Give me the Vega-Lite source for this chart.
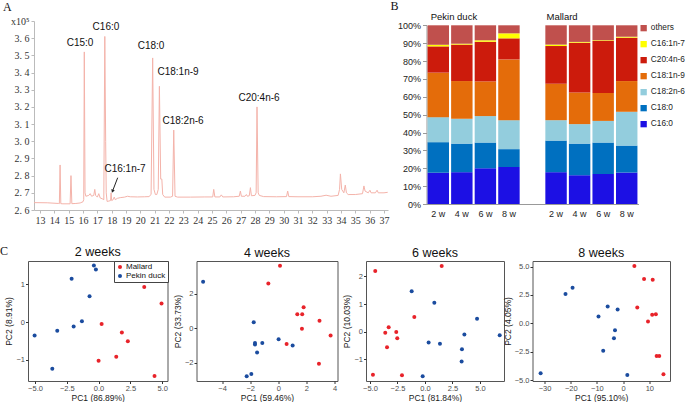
{
  "$schema": "https://vega.github.io/schema/vega-lite/v6.json",
  "background": "white",
  "padding": {"left": 0, "top": 0, "right": 16, "bottom": 0},
  "config": {"font": "Liberation Sans", "view": {"stroke": null}, "title": {"fontWeight": "normal", "color": "#111"}, "axis": {"grid": false}},
  "datasets": {
    "chrom": [
      {"t":12.58,"v":2.643},{"t":13.5,"v":2.642},{"t":14.3,"v":2.638},{"t":14.35,"v":2.637},{"t":14.4,"v":2.862},{"t":14.45,"v":2.637},{"t":14.6,"v":2.636},{"t":15.1,"v":2.636},{"t":15.16,"v":2.8},{"t":15.22,"v":2.637},{"t":15.5,"v":2.638},{"t":15.8,"v":2.641},{"t":16.0,"v":2.648},{"t":16.05,"v":2.66},{"t":16.09,"v":3.52},{"t":16.14,"v":2.7},{"t":16.2,"v":2.68},{"t":16.4,"v":2.685},{"t":16.5,"v":2.695},{"t":16.6,"v":2.68},{"t":16.75,"v":2.685},{"t":16.82,"v":2.72},{"t":16.88,"v":2.685},{"t":17.0,"v":2.675},{"t":17.1,"v":2.695},{"t":17.2,"v":2.67},{"t":17.35,"v":2.665},{"t":17.45,"v":2.66},{"t":17.52,"v":3.61},{"t":17.58,"v":3.0},{"t":17.62,"v":2.7},{"t":17.68,"v":2.65},{"t":17.8,"v":2.652},{"t":17.92,"v":2.655},{"t":17.96,"v":2.7},{"t":18.0,"v":2.655},{"t":18.1,"v":2.66},{"t":18.18,"v":2.675},{"t":18.25,"v":2.66},{"t":18.4,"v":2.668},{"t":18.6,"v":2.672},{"t":18.9,"v":2.675},{"t":19.1,"v":2.68},{"t":19.3,"v":2.677},{"t":19.8,"v":2.676},{"t":20.3,"v":2.677},{"t":20.6,"v":2.678},{"t":20.75,"v":2.69},{"t":20.86,"v":3.485},{"t":20.95,"v":2.72},{"t":21.05,"v":2.69},{"t":21.15,"v":2.69},{"t":21.25,"v":2.72},{"t":21.33,"v":3.32},{"t":21.42,"v":2.78},{"t":21.5,"v":2.78},{"t":21.56,"v":2.69},{"t":21.7,"v":2.675},{"t":22.1,"v":2.675},{"t":22.25,"v":2.68},{"t":22.33,"v":3.065},{"t":22.42,"v":2.68},{"t":22.6,"v":2.675},{"t":23.5,"v":2.675},{"t":24.5,"v":2.676},{"t":25.05,"v":2.676},{"t":25.12,"v":2.72},{"t":25.2,"v":2.676},{"t":25.55,"v":2.676},{"t":25.65,"v":2.688},{"t":25.75,"v":2.676},{"t":26.5,"v":2.677},{"t":26.9,"v":2.68},{"t":26.98,"v":2.71},{"t":27.05,"v":2.68},{"t":27.3,"v":2.68},{"t":27.4,"v":2.69},{"t":27.47,"v":2.68},{"t":27.6,"v":2.683},{"t":27.68,"v":2.73},{"t":27.75,"v":2.683},{"t":28.0,"v":2.685},{"t":28.08,"v":2.7},{"t":28.14,"v":3.2},{"t":28.22,"v":2.7},{"t":28.3,"v":2.685},{"t":28.6,"v":2.678},{"t":29.5,"v":2.677},{"t":30.2,"v":2.678},{"t":30.28,"v":2.71},{"t":30.36,"v":2.678},{"t":31.0,"v":2.677},{"t":32.0,"v":2.677},{"t":32.6,"v":2.68},{"t":32.96,"v":2.686},{"t":33.3,"v":2.68},{"t":33.8,"v":2.685},{"t":33.9,"v":2.72},{"t":33.96,"v":2.81},{"t":34.05,"v":2.72},{"t":34.2,"v":2.7},{"t":34.3,"v":2.745},{"t":34.38,"v":2.7},{"t":34.5,"v":2.69},{"t":35.0,"v":2.69},{"t":35.5,"v":2.695},{"t":35.6,"v":2.74},{"t":35.68,"v":2.71},{"t":35.9,"v":2.7},{"t":36.02,"v":2.715},{"t":36.1,"v":2.7},{"t":36.4,"v":2.7},{"t":36.52,"v":2.715},{"t":36.6,"v":2.7},{"t":37.0,"v":2.7},{"t":37.26,"v":2.703}
    ],
    "peaks": [
      {"t":15.79,"v":3.571,"label":"C15:0"},
      {"t":17.6,"v":3.666,"label":"C16:0"},
      {"t":20.75,"v":3.553,"label":"C18:0"},
      {"t":22.63,"v":3.402,"label":"C18:1n-9"},
      {"t":22.98,"v":3.117,"label":"C18:2n-6"},
      {"t":28.28,"v":3.251,"label":"C20:4n-6"},
      {"t":18.93,"v":2.838,"label":"C16:1n-7"}
    ],
    "arrow": [{"t":18.42,"v":2.788,"t2":18.07,"v2":2.712}],
    "fa": [
      {"cat":"P2","fa":"C16:0","ord":1,"pct":17.5},{"cat":"P2","fa":"C18:0","ord":2,"pct":17.1},{"cat":"P2","fa":"C18:2n-6","ord":3,"pct":14.0},{"cat":"P2","fa":"C18:1n-9","ord":4,"pct":24.9},{"cat":"P2","fa":"C20:4n-6","ord":5,"pct":14.7},{"cat":"P2","fa":"C16:1n-7","ord":6,"pct":0.9},{"cat":"P2","fa":"others","ord":7,"pct":10.9},
      {"cat":"P4","fa":"C16:0","ord":1,"pct":17.8},{"cat":"P4","fa":"C18:0","ord":2,"pct":16.0},{"cat":"P4","fa":"C18:2n-6","ord":3,"pct":13.9},{"cat":"P4","fa":"C18:1n-9","ord":4,"pct":21.1},{"cat":"P4","fa":"C20:4n-6","ord":5,"pct":20.4},{"cat":"P4","fa":"C16:1n-7","ord":6,"pct":0.5},{"cat":"P4","fa":"others","ord":7,"pct":10.3},
      {"cat":"P6","fa":"C16:0","ord":1,"pct":20.0},{"cat":"P6","fa":"C18:0","ord":2,"pct":14.4},{"cat":"P6","fa":"C18:2n-6","ord":3,"pct":14.8},{"cat":"P6","fa":"C18:1n-9","ord":4,"pct":19.4},{"cat":"P6","fa":"C20:4n-6","ord":5,"pct":22.2},{"cat":"P6","fa":"C16:1n-7","ord":6,"pct":0.8},{"cat":"P6","fa":"others","ord":7,"pct":8.4},
      {"cat":"P8","fa":"C16:0","ord":1,"pct":20.7},{"cat":"P8","fa":"C18:0","ord":2,"pct":10.0},{"cat":"P8","fa":"C18:2n-6","ord":3,"pct":16.2},{"cat":"P8","fa":"C18:1n-9","ord":4,"pct":34.0},{"cat":"P8","fa":"C20:4n-6","ord":5,"pct":11.8},{"cat":"P8","fa":"C16:1n-7","ord":6,"pct":2.8},{"cat":"P8","fa":"others","ord":7,"pct":4.5},
      {"cat":"M2","fa":"C16:0","ord":1,"pct":17.8},{"cat":"M2","fa":"C18:0","ord":2,"pct":17.7},{"cat":"M2","fa":"C18:2n-6","ord":3,"pct":11.4},{"cat":"M2","fa":"C18:1n-9","ord":4,"pct":20.4},{"cat":"M2","fa":"C20:4n-6","ord":5,"pct":21.1},{"cat":"M2","fa":"C16:1n-7","ord":6,"pct":0.8},{"cat":"M2","fa":"others","ord":7,"pct":10.8},
      {"cat":"M4","fa":"C16:0","ord":1,"pct":16.1},{"cat":"M4","fa":"C18:0","ord":2,"pct":17.7},{"cat":"M4","fa":"C18:2n-6","ord":3,"pct":10.9},{"cat":"M4","fa":"C18:1n-9","ord":4,"pct":17.7},{"cat":"M4","fa":"C20:4n-6","ord":5,"pct":27.9},{"cat":"M4","fa":"C16:1n-7","ord":6,"pct":0.4},{"cat":"M4","fa":"others","ord":7,"pct":9.3},
      {"cat":"M6","fa":"C16:0","ord":1,"pct":16.8},{"cat":"M6","fa":"C18:0","ord":2,"pct":17.6},{"cat":"M6","fa":"C18:2n-6","ord":3,"pct":12.1},{"cat":"M6","fa":"C18:1n-9","ord":4,"pct":15.6},{"cat":"M6","fa":"C20:4n-6","ord":5,"pct":29.1},{"cat":"M6","fa":"C16:1n-7","ord":6,"pct":0.4},{"cat":"M6","fa":"others","ord":7,"pct":8.4},
      {"cat":"M8","fa":"C16:0","ord":1,"pct":17.6},{"cat":"M8","fa":"C18:0","ord":2,"pct":15.1},{"cat":"M8","fa":"C18:2n-6","ord":3,"pct":18.9},{"cat":"M8","fa":"C18:1n-9","ord":4,"pct":17.2},{"cat":"M8","fa":"C20:4n-6","ord":5,"pct":24.3},{"cat":"M8","fa":"C16:1n-7","ord":6,"pct":0.5},{"cat":"M8","fa":"others","ord":7,"pct":6.4}
    ],
    "grpP": [{"cat":"P4","pct":104.6,"label":"Pekin duck"}],
    "grpM": [{"cat":"M2","pct":104.6,"label":"Mallard"}],
    "c2": [
      {"group":"Pekin duck","pc1":-0.37,"pc2":1.5},{"group":"Pekin duck","pc1":-0.21,"pc2":1.39},{"group":"Pekin duck","pc1":-2.12,"pc2":1.15},{"group":"Pekin duck","pc1":-0.71,"pc2":0.68},{"group":"Pekin duck","pc1":-1.31,"pc2":0.02},{"group":"Pekin duck","pc1":-1.96,"pc2":-0.12},{"group":"Pekin duck","pc1":-3.25,"pc2":-0.23},{"group":"Pekin duck","pc1":-5.03,"pc2":-0.36},{"group":"Pekin duck","pc1":-3.64,"pc2":-1.24},
      {"group":"Mallard","pc1":3.59,"pc2":0.93},{"group":"Mallard","pc1":4.95,"pc2":0.49},{"group":"Mallard","pc1":0.24,"pc2":-0.05},{"group":"Mallard","pc1":1.83,"pc2":-0.28},{"group":"Mallard","pc1":2.3,"pc2":-0.51},{"group":"Mallard","pc1":1.39,"pc2":-0.92},{"group":"Mallard","pc1":0.0,"pc2":-1.03},{"group":"Mallard","pc1":4.4,"pc2":-1.43}
    ],
    "c4": [
      {"group":"Pekin duck","pc1":-5.35,"pc2":2.69},{"group":"Pekin duck","pc1":-1.75,"pc2":0.35},{"group":"Pekin duck","pc1":-1.66,"pc2":-0.85},{"group":"Pekin duck","pc1":-1.66,"pc2":-0.94},{"group":"Pekin duck","pc1":-1.14,"pc2":-0.85},{"group":"Pekin duck","pc1":-1.51,"pc2":-1.4},{"group":"Pekin duck","pc1":0.02,"pc2":-0.63},{"group":"Pekin duck","pc1":1.02,"pc2":-1.0},{"group":"Pekin duck","pc1":-1.92,"pc2":-2.63},{"group":"Pekin duck","pc1":-2.25,"pc2":-2.77},
      {"group":"Mallard","pc1":0.12,"pc2":3.6},{"group":"Mallard","pc1":-0.71,"pc2":2.58},{"group":"Mallard","pc1":1.8,"pc2":1.21},{"group":"Mallard","pc1":1.35,"pc2":0.81},{"group":"Mallard","pc1":1.7,"pc2":0.81},{"group":"Mallard","pc1":2.93,"pc2":0.44},{"group":"Mallard","pc1":1.68,"pc2":-0.02},{"group":"Mallard","pc1":3.72,"pc2":-0.42},{"group":"Mallard","pc1":0.59,"pc2":-0.9},{"group":"Mallard","pc1":2.89,"pc2":-2.04}
    ],
    "c6": [
      {"group":"Mallard","pc1":-4.52,"pc2":2.2},{"group":"Mallard","pc1":1.52,"pc2":2.38},{"group":"Mallard","pc1":-0.97,"pc2":0.53},{"group":"Mallard","pc1":-3.3,"pc2":0.16},{"group":"Mallard","pc1":-3.61,"pc2":-0.04},{"group":"Mallard","pc1":-2.61,"pc2":-0.01},{"group":"Mallard","pc1":-2.52,"pc2":-0.24},{"group":"Mallard","pc1":-3.45,"pc2":-0.57},{"group":"Mallard","pc1":-4.73,"pc2":-1.56},{"group":"Mallard","pc1":-2.09,"pc2":-1.58},
      {"group":"Pekin duck","pc1":-1.21,"pc2":1.46},{"group":"Pekin duck","pc1":0.85,"pc2":1.05},{"group":"Pekin duck","pc1":4.73,"pc2":0.47},{"group":"Pekin duck","pc1":3.58,"pc2":-0.1},{"group":"Pekin duck","pc1":6.79,"pc2":-0.13},{"group":"Pekin duck","pc1":0.33,"pc2":-0.39},{"group":"Pekin duck","pc1":1.36,"pc2":-0.44},{"group":"Pekin duck","pc1":3.36,"pc2":-0.64},{"group":"Pekin duck","pc1":3.33,"pc2":-1.08},{"group":"Pekin duck","pc1":-0.21,"pc2":-1.62}
    ],
    "c8": [
      {"group":"Pekin duck","pc1":-19.3,"pc2":3.14},{"group":"Pekin duck","pc1":-22.0,"pc2":2.59},{"group":"Pekin duck","pc1":-5.9,"pc2":1.48},{"group":"Pekin duck","pc1":-2.1,"pc2":1.22},{"group":"Pekin duck","pc1":-9.4,"pc2":0.61},{"group":"Pekin duck","pc1":-3.1,"pc2":-0.61},{"group":"Pekin duck","pc1":-3.5,"pc2":-1.31},{"group":"Pekin duck","pc1":-7.6,"pc2":-2.41},{"group":"Pekin duck","pc1":-31.5,"pc2":-4.39},{"group":"Pekin duck","pc1":1.6,"pc2":-4.56},
      {"group":"Mallard","pc1":4.3,"pc2":5.06},{"group":"Mallard","pc1":8.0,"pc2":3.9},{"group":"Mallard","pc1":11.3,"pc2":3.84},{"group":"Mallard","pc1":5.4,"pc2":1.4},{"group":"Mallard","pc1":12.5,"pc2":0.81},{"group":"Mallard","pc1":11.1,"pc2":0.76},{"group":"Mallard","pc1":9.5,"pc2":0.17},{"group":"Mallard","pc1":12.8,"pc2":-2.88},{"group":"Mallard","pc1":13.8,"pc2":-2.88},{"group":"Mallard","pc1":15.4,"pc2":-4.48}
    ],
    "none": []
  },
  "spacing": 19,
  "resolve": {"scale": {"color": "independent"}, "legend": {"color": "independent"}},
  "vconcat": [
    {
      "bounds": "flush",
      "spacing": 0,
      "resolve": {"scale": {"color": "independent"}, "legend": {"color": "independent"}},
      "hconcat": [
        {
          "width": 5.7, "height": 1,
          "data": {"name": "none"},
          "mark": {"type": "point"},
          "encoding": {}
        },
        {
          "bounds": "flush",
          "spacing": 38.5,
          "resolve": {"scale": {"color": "independent"}, "legend": {"color": "independent"}},
          "hconcat": [
            {
              "width": 354, "height": 189,
              "title": {"text": "A", "anchor": "start", "frame": "group", "dx": -31, "font": "Liberation Serif", "fontSize": 12, "offset": 2},
              "layer": [
                {
                  "data": {"name": "chrom"},
                  "mark": {"type": "line", "stroke": "#f4b3aa", "strokeWidth": 1, "clip": true},
                  "encoding": {
                    "x": {"field": "t", "type": "quantitative", "scale": {"domain": [12.58, 37.28], "nice": false, "zero": false},
                      "axis": {"title": null, "values": [13,14,15,16,17,18,19,20,21,22,23,24,25,26,27,28,29,30,31,32,33,34,35,36,37], "tickCount": 40, "format": "d", "labelFont": "Liberation Serif", "labelFontSize": 10, "labelColor": "#333", "labelOverlap": false, "labelFlush": false, "domainColor": "#bbb", "tickColor": "#bbb", "tickSize": 3, "labelPadding": 2}},
                    "y": {"field": "v", "type": "quantitative", "scale": {"domain": [2.6, 3.7], "nice": false, "zero": false},
                      "axis": {"title": null, "values": [2.6,2.7,2.8,2.9,3.0,3.1,3.2,3.3,3.4,3.5,3.6,3.7], "tickCount": 20, "labelExpr": "datum.value > 3.65 ? 'x10⁵' : replace(format(datum.value, '.1f'), '.', '. ')", "labelFont": "Liberation Serif", "labelFontSize": 10, "labelColor": "#333", "labelOverlap": false, "labelFlush": false, "domainColor": "#bbb", "tickColor": "#bbb", "tickSize": 3, "labelPadding": 2}}
                  }
                },
                {
                  "data": {"name": "peaks"},
                  "mark": {"type": "text", "font": "Liberation Sans", "fontSize": 10, "color": "#111", "align": "center", "baseline": "middle"},
                  "encoding": {
                    "x": {"field": "t", "type": "quantitative"},
                    "y": {"field": "v", "type": "quantitative"},
                    "text": {"field": "label"}
                  }
                },
                {
                  "data": {"name": "arrow"},
                  "mark": {"type": "rule", "color": "#222", "strokeWidth": 1},
                  "encoding": {
                    "x": {"field": "t", "type": "quantitative"},
                    "y": {"field": "v", "type": "quantitative"},
                    "x2": {"field": "t2"},
                    "y2": {"field": "v2"}
                  }
                },
                {
                  "data": {"name": "arrow"},
                  "mark": {"type": "point", "shape": "triangle", "angle": 200.8, "size": 14, "filled": true, "color": "#222", "opacity": 1},
                  "encoding": {
                    "x": {"field": "t2", "type": "quantitative"},
                    "y": {"field": "v2", "type": "quantitative"}
                  }
                }
              ]
            },
            {
              "width": 212, "height": 183,
              "title": {"text": "B", "anchor": "start", "frame": "group", "dx": -36, "font": "Liberation Serif", "fontSize": 12, "offset": -1},
              "layer": [
                {
                  "data": {"name": "fa"},
                  "mark": {"type": "bar"},
                  "encoding": {
                    "x": {"field": "cat", "type": "nominal", "sort": null, "scale": {"domain": ["P2","P4","P6","P8","gap","M2","M4","M6","M8"], "paddingInner": 0.09, "paddingOuter": 0.045},
                      "axis": {"title": null, "labelExpr": "datum.value == 'gap' ? '' : slice(datum.value, 1) + ' w'", "labelAngle": 0, "ticks": false, "domainColor": "#999", "labelFontSize": 9, "labelColor": "#222", "labelPadding": 5}},
                    "y": {"field": "pct", "type": "quantitative", "stack": "zero", "scale": {"domain": [0, 100], "range": [183, 4.3], "nice": false},
                      "axis": {"title": null, "values": [0,10,20,30,40,50,60,70,80,90,100], "tickCount": 20, "labelExpr": "datum.value + '%'", "tickSize": 4, "labelFontSize": 9, "labelColor": "#222", "domainColor": "#999", "tickColor": "#999", "labelPadding": 2, "labelOverlap": false, "labelFlush": false}},
                    "color": {"field": "fa", "type": "nominal",
                      "scale": {"domain": ["others","C16:1n-7","C20:4n-6","C18:1n-9","C18:2n-6","C18:0","C16:0"], "range": ["#c0504d","#ffff00","#cc1b0c","#e46c0a","#93cddd","#0070c0","#1c10e4"]},
                      "legend": {"title": null, "orient": "none", "legendX": 213, "legendY": 3, "symbolType": "square", "symbolSize": 40, "symbolStrokeWidth": 0, "labelFontSize": 8.3, "labelColor": "#222", "rowPadding": 7, "labelOffset": 3, "padding": 0}},
                    "order": {"field": "ord", "type": "quantitative"}
                  }
                },
                {
                  "data": {"name": "grpP"},
                  "mark": {"type": "text", "fontSize": 9.5, "baseline": "middle", "align": "center", "color": "#111"},
                  "encoding": {
                    "x": {"field": "cat", "type": "nominal", "bandPosition": 0.13},
                    "y": {"field": "pct", "type": "quantitative"},
                    "text": {"field": "label"}
                  }
                },
                {
                  "data": {"name": "grpM"},
                  "mark": {"type": "text", "fontSize": 9.5, "baseline": "middle", "align": "center", "color": "#111"},
                  "encoding": {
                    "x": {"field": "cat", "type": "nominal", "bandPosition": 0.78},
                    "y": {"field": "pct", "type": "quantitative"},
                    "text": {"field": "label"}
                  }
                }
              ]
            }
          ]
        }
      ]
    },
    {
      "bounds": "flush",
      "spacing": 28.5,
      "title": {"text": "C", "anchor": "start", "frame": "group", "dx": -28, "dy": 14, "font": "Liberation Serif", "fontSize": 12, "offset": 2},
      "resolve": {"scale": {"color": "independent"}, "legend": {"color": "independent"}},
      "hconcat": [
        {
          "width": 139.5, "height": 120,
          "title": {"text": "2 weeks", "fontSize": 12.5, "offset": 2},
          "view": {"stroke": "#555", "strokeWidth": 1},
          "data": {"name": "c2"},
          "mark": {"type": "circle", "size": 16, "opacity": 1},
          "encoding": {
            "x": {"field": "pc1", "type": "quantitative", "scale": {"domain": [-5.55, 5.42], "nice": false, "zero": false},
              "axis": {"title": "PC1 (86.89%)", "values": [-5, -2.5, 0, 2.5, 5], "tickCount": 10, "format": ".1f", "domain": false, "tickColor": "#333", "tickSize": 2.5, "labelFontSize": 7.5, "labelColor": "#4d4d4d", "labelPadding": 1, "titleFontSize": 8.5, "titleFontWeight": "normal", "titleColor": "#1a1a1a", "titlePadding": 1, "labelFlush": false, "labelOverlap": false}},
            "y": {"field": "pc2", "type": "quantitative", "scale": {"domain": [-1.564, 1.618], "nice": false, "zero": false},
              "axis": {"title": "PC2 (8.91%)", "values": [-1, 0, 1], "tickCount": 10, "format": "d", "domain": false, "tickColor": "#333", "tickSize": 2.5, "labelFontSize": 7.5, "labelColor": "#4d4d4d", "labelPadding": 1, "titleFontSize": 8.5, "titleFontWeight": "normal", "titleColor": "#1a1a1a", "titlePadding": 2, "labelFlush": false, "labelOverlap": false}},
            "color": {"field": "group", "type": "nominal", "scale": {"domain": ["Mallard", "Pekin duck"], "range": ["#e8232a", "#1b4c9f"]},
              "legend": {"title": null, "orient": "none", "legendX": 86, "legendY": 0, "strokeColor": "#444", "fillColor": "white", "padding": 2, "labelFontSize": 8, "labelColor": "#111", "symbolSize": 16, "symbolType": "circle", "rowPadding": 1, "labelOffset": 2}}
          }
        },
        {
          "width": 141, "height": 120,
          "title": {"text": "4 weeks", "fontSize": 12.5, "offset": 2},
          "view": {"stroke": "#555", "strokeWidth": 1},
          "data": {"name": "c4"},
          "mark": {"type": "circle", "size": 16, "opacity": 1},
          "encoding": {
            "x": {"field": "pc1", "type": "quantitative", "scale": {"domain": [-5.82, 4.21], "nice": false, "zero": false},
              "axis": {"title": "PC1 (59.46%)", "values": [-4, -2, 0, 2, 4], "tickCount": 10, "format": "d", "domain": false, "tickColor": "#333", "tickSize": 2.5, "labelFontSize": 7.5, "labelColor": "#4d4d4d", "labelPadding": 1, "titleFontSize": 8.5, "titleFontWeight": "normal", "titleColor": "#1a1a1a", "titlePadding": 1, "labelFlush": false, "labelOverlap": false}},
            "y": {"field": "pc2", "type": "quantitative", "scale": {"domain": [-3.04, 3.88], "nice": false, "zero": false},
              "axis": {"title": "PC2 (33.73%)", "values": [-2, 0, 2], "tickCount": 10, "format": "d", "domain": false, "tickColor": "#333", "tickSize": 2.5, "labelFontSize": 7.5, "labelColor": "#4d4d4d", "labelPadding": 1, "titleFontSize": 8.5, "titleFontWeight": "normal", "titleColor": "#1a1a1a", "titlePadding": 2, "labelFlush": false, "labelOverlap": false}},
            "color": {"field": "group", "type": "nominal", "scale": {"domain": ["Mallard", "Pekin duck"], "range": ["#e8232a", "#1b4c9f"]}, "legend": null}
          }
        },
        {
          "width": 138, "height": 120,
          "title": {"text": "6 weeks", "fontSize": 12.5, "offset": 2},
          "view": {"stroke": "#555", "strokeWidth": 1},
          "data": {"name": "c6"},
          "mark": {"type": "circle", "size": 16, "opacity": 1},
          "encoding": {
            "x": {"field": "pc1", "type": "quantitative", "scale": {"domain": [-5.36, 7.18], "nice": false, "zero": false},
              "axis": {"title": "PC1 (81.84%)", "values": [-5, -2.5, 0, 2.5, 5], "tickCount": 10, "format": ".1f", "domain": false, "tickColor": "#333", "tickSize": 2.5, "labelFontSize": 7.5, "labelColor": "#4d4d4d", "labelPadding": 1, "titleFontSize": 8.5, "titleFontWeight": "normal", "titleColor": "#1a1a1a", "titlePadding": 1, "labelFlush": false, "labelOverlap": false}},
            "y": {"field": "pc2", "type": "quantitative", "scale": {"domain": [-1.79, 2.56], "nice": false, "zero": false},
              "axis": {"title": "PC2 (10.03%)", "values": [-1, 0, 1, 2], "tickCount": 10, "format": "d", "domain": false, "tickColor": "#333", "tickSize": 2.5, "labelFontSize": 7.5, "labelColor": "#4d4d4d", "labelPadding": 1, "titleFontSize": 8.5, "titleFontWeight": "normal", "titleColor": "#1a1a1a", "titlePadding": 2, "labelFlush": false, "labelOverlap": false}},
            "color": {"field": "group", "type": "nominal", "scale": {"domain": ["Mallard", "Pekin duck"], "range": ["#e8232a", "#1b4c9f"]}, "legend": null}
          }
        },
        {
          "width": 137.5, "height": 120,
          "title": {"text": "8 weeks", "fontSize": 12.5, "offset": 2},
          "view": {"stroke": "#555", "strokeWidth": 1},
          "data": {"name": "c8"},
          "mark": {"type": "circle", "size": 16, "opacity": 1},
          "encoding": {
            "x": {"field": "pc1", "type": "quantitative", "scale": {"domain": [-34.6, 17.9], "nice": false, "zero": false},
              "axis": {"title": "PC1 (95.10%)", "values": [-30, -20, -10, 0, 10], "tickCount": 10, "format": "d", "domain": false, "tickColor": "#333", "tickSize": 2.5, "labelFontSize": 7.5, "labelColor": "#4d4d4d", "labelPadding": 1, "titleFontSize": 8.5, "titleFontWeight": "normal", "titleColor": "#1a1a1a", "titlePadding": 1, "labelFlush": false, "labelOverlap": false}},
            "y": {"field": "pc2", "type": "quantitative", "scale": {"domain": [-5.08, 5.49], "nice": false, "zero": false},
              "axis": {"title": "PC2 (4.05%)", "values": [-5, -2.5, 0, 2.5, 5], "tickCount": 10, "format": ".1f", "domain": false, "tickColor": "#333", "tickSize": 2.5, "labelFontSize": 7.5, "labelColor": "#4d4d4d", "labelPadding": 1, "titleFontSize": 8.5, "titleFontWeight": "normal", "titleColor": "#1a1a1a", "titlePadding": 2, "labelFlush": false, "labelOverlap": false}},
            "color": {"field": "group", "type": "nominal", "scale": {"domain": ["Mallard", "Pekin duck"], "range": ["#e8232a", "#1b4c9f"]}, "legend": null}
          }
        }
      ]
    }
  ]
}
